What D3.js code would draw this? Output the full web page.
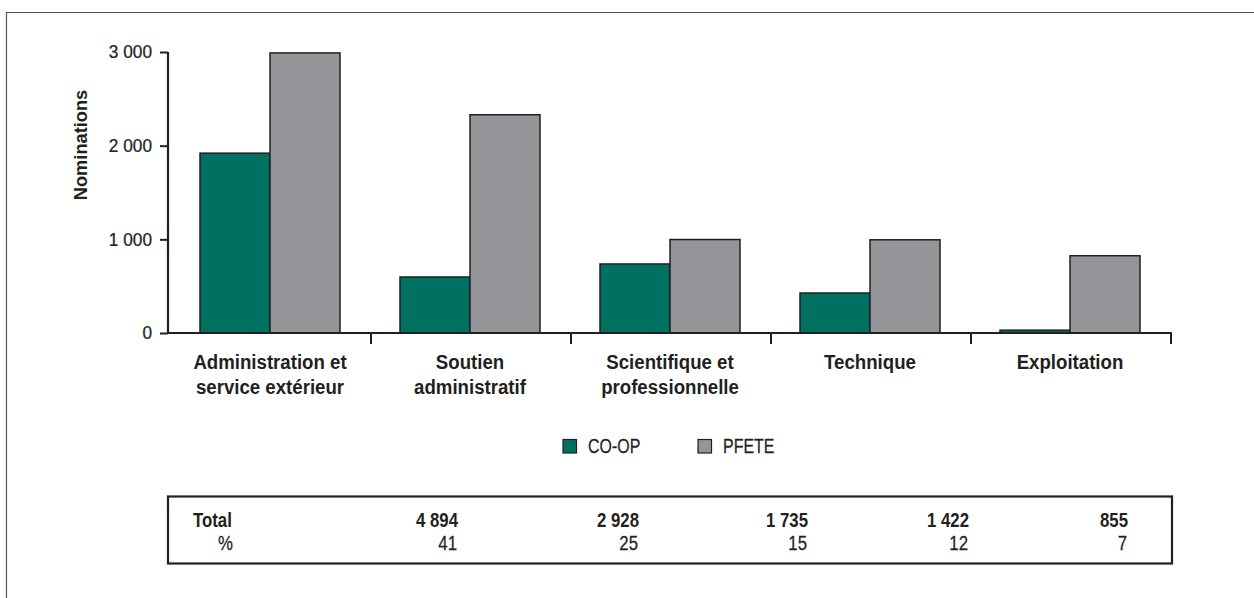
<!DOCTYPE html>
<html><head><meta charset="utf-8">
<script src="https://cdn.jsdelivr.net/npm/d3@7"></script>
<style>
body{margin:0;background:#fff;}
text{font-family:"Liberation Sans",Arial,sans-serif;fill:#231f20;}
</style></head>
<body><svg id="c" width="1254" height="598"></svg>
<script>
const categories = [["Administration et","service extérieur"],["Soutien","administratif"],["Scientifique et","professionnelle"],["Technique"],["Exploitation"]];
const series = ["CO-OP","PFETE"];
const coop = [1920, 598, 737, 427, 30];
const pfete = [2990, 2330, 998, 995, 825];
const yTicks = [0, 1000, 2000, 3000];
const totals = ["4 894","2 928","1 735","1 422","855"];
const percents = ["41","25","15","12","7"];
const colors = {"CO-OP":"#007161","PFETE":"#939598"};

const svg = d3.select("#c");
const ink = "#231f20";
// condensed text helper
function ctext(parent, x, y, str, size, sx, opts){
  opts = opts || {};
  const t = parent.append("text")
    .attr("transform","translate("+x+","+y+")"+(opts.rot?" rotate("+opts.rot+")":"")+" scale("+sx+",1)")
    .attr("font-size",size).attr("text-anchor",opts.anchor||"start")
    .attr("font-weight",opts.bold?"bold":"normal").text(str);
  if(!opts.bold) t.attr("stroke",ink).attr("stroke-width",0.25);
  return t;
}
// outer frame
svg.append("path").attr("d","M6.5,598V12.5H1254").attr("fill","none").attr("stroke","#555").attr("stroke-width",1.2);

const keys = categories.map(c=>c.join(" "));
const x = d3.scaleBand().domain(keys).range([170,1170]).padding(0);
const xs = d3.scaleBand().domain(series).range([0,x.bandwidth()]).paddingInner(0).paddingOuter(30/70);
const y = d3.scaleLinear().domain([0,3000]).range([333,52]);

const vals = {"CO-OP":coop,"PFETE":pfete};
const g = svg.append("g");
series.forEach(s=>{
  g.selectAll(null).data(keys).enter().append("rect")
   .attr("x",(k)=>x(k)+xs(s)).attr("width",xs.bandwidth())
   .attr("y",(k,i)=>y(vals[s][i])).attr("height",(k,i)=>y(0)-y(vals[s][i]))
   .attr("fill",colors[s]).attr("stroke",ink).attr("stroke-width",1.5);
});

// y axis
const fmt = v => d3.format(",")(v).replace(/,/g," ");
const ya = svg.append("g").attr("transform","translate(168,0)")
  .call(d3.axisLeft(y).tickValues(yTicks).tickSize(8).tickFormat(""));
ya.select(".domain").attr("d","M0,"+y(3000)+"V"+y(0)).attr("stroke",ink).attr("stroke-width",2.2);
ya.selectAll(".tick line").attr("stroke",ink).attr("stroke-width",2);
yTicks.forEach(v=>{
  ctext(svg, 152, y(v)+6.3, fmt(v), 17.8, 0.97, {anchor:"end"});
});

// x axis
const xa = svg.append("g").attr("transform","translate(0,"+y(0)+")");
xa.append("line").attr("x1",167).attr("x2",1172).attr("stroke",ink).attr("stroke-width",2.2);
xa.selectAll(null).data(keys).enter().append("line")
  .attr("x1",k=>x(k)+x.bandwidth()+1).attr("x2",k=>x(k)+x.bandwidth()+1)
  .attr("y1",0).attr("y2",11).attr("stroke",ink).attr("stroke-width",2);
categories.forEach((c,i)=>{
  c.forEach((line,j)=>{
    ctext(svg, x(keys[i])+x.bandwidth()/2, 369+j*25, line, 20.5, 0.91, {anchor:"middle",bold:true});
  });
});

// y label
ctext(svg, 87, 145, "Nominations", 19, 0.96, {anchor:"middle",bold:true,rot:-90});

// legend
const legX = [563, 698];
series.forEach((s,i)=>{
  svg.append("rect").attr("x",legX[i]).attr("y",439.5).attr("width",13.5).attr("height",13.5)
    .attr("fill",colors[s]).attr("stroke",ink).attr("stroke-width",1.2);
  ctext(svg, legX[i]+25, 453, s, 21, 0.76);
});

// table
svg.append("rect").attr("x",168).attr("y",496.5).attr("width",1004).attr("height",67)
  .attr("fill","none").attr("stroke",ink).attr("stroke-width",2.2);
ctext(svg, 193, 527, "Total", 21, 0.8, {bold:true});
ctext(svg, 233, 550, "%", 21, 0.8, {anchor:"end"});
const colRight = [458, 639, 808, 969, 1128];
totals.forEach((d,i)=> ctext(svg, colRight[i], 527, d, 21, 0.8, {anchor:"end",bold:true}));
percents.forEach((d,i)=> ctext(svg, colRight[i]-1, 550, d, 21, 0.8, {anchor:"end"}));
</script></body></html>
